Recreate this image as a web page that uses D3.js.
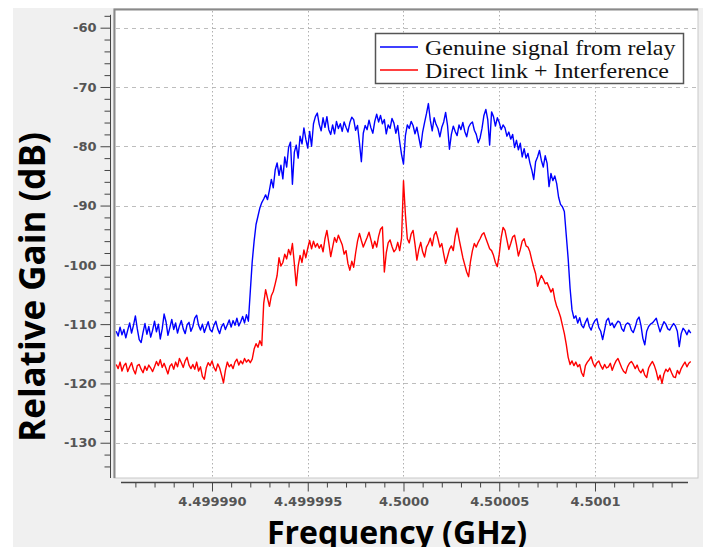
<!DOCTYPE html>
<meta charset="utf-8">
<title>Relative gain</title>
<style>
body { margin: 0; background: #fff; }
svg { display: block; }
.tick text { font-family: "DejaVu Sans"; font-weight: bold; font-size: 13px; fill: #555; }
.tick line { stroke: #444; }
</style>
<body>
<script src="https://d3js.org/d3.v7.min.js"></script>
<script>

// spectrum bins: 1 kHz apart, from 4.49985 GHz
var freqStart = 4.49985,
    freqStep = 0.000001;

// Genuine signal from relay (dB)
var genuine = [
  -111.2, -112.0, -110.5, -111.8, -110.9, -112.3, -111.0, -109.8, -111.5, -110.2,
  -108.6, -110.8, -112.6, -113.1, -111.4, -109.9, -111.7, -110.4, -112.2, -111.0,
  -109.5, -111.3, -110.0, -112.5, -110.8, -108.3, -109.6, -111.9, -110.6, -109.2,
  -110.9, -109.8, -111.5, -110.3, -109.4, -110.8, -111.6, -110.1, -109.7, -111.2,
  -110.4, -109.0, -108.5, -110.2, -111.0, -110.0, -111.4, -110.5, -109.6, -110.9,
  -111.3, -110.2, -109.5, -110.8, -111.6, -110.4, -109.9, -110.9, -110.1, -109.3,
  -110.5, -109.4, -110.2, -109.0, -110.3, -109.6, -108.7, -109.8, -108.4, -109.5,
  -104.5, -99.5, -96.0, -93.2, -91.8, -90.4, -89.5, -88.9, -88.2, -89.0,
  -87.4, -85.6, -87.0, -84.0, -82.8, -84.9, -83.2, -85.5, -81.8, -83.5,
  -80.2, -79.3, -86.4, -81.0, -79.8, -82.0, -78.3, -79.6, -76.9, -78.8,
  -80.3, -77.5, -80.0, -76.2, -75.0, -74.4, -76.3, -77.4, -75.2, -76.8,
  -75.0, -77.2, -78.0, -76.4, -77.9, -75.8, -77.0, -76.2, -77.5, -75.9,
  -76.8, -77.6, -76.0, -75.1, -75.5, -77.3, -76.5, -79.4, -82.6, -77.8,
  -76.5, -77.2, -75.6, -76.9, -77.8, -75.8, -74.6, -75.9, -74.8, -76.2,
  -75.5, -77.9, -76.4, -77.0, -75.3, -76.1, -77.8, -76.5, -79.2, -81.4,
  -83.0, -78.2, -76.4, -77.0, -75.8, -76.5, -77.9, -76.8, -78.5, -80.2,
  -77.6, -76.0, -74.5, -72.8, -75.6, -77.4, -75.2, -76.3, -77.0, -78.4,
  -76.8, -75.9, -74.3, -76.5, -80.5, -78.0, -76.6, -77.5, -78.2, -76.4,
  -77.2, -76.0, -77.5, -78.4, -76.8, -76.2, -75.9, -77.3, -78.0, -79.4,
  -78.6, -77.0, -74.8, -73.8, -75.5, -79.8, -74.2, -75.0, -76.6, -75.2,
  -76.0, -77.2, -76.4, -76.9, -78.3, -77.6, -78.8, -78.0, -80.2, -79.0,
  -80.6, -79.5, -81.8, -80.4, -82.0, -81.2, -82.8, -84.0, -85.6, -82.6,
  -81.8, -80.7, -82.4, -83.5, -81.6, -82.9, -86.8, -84.6, -85.8, -85.0,
  -86.3, -88.6, -89.8, -90.2, -91.0, -95.0, -99.0, -104.0, -107.6, -109.0,
  -108.6, -109.8, -108.9, -110.2, -110.6, -109.7, -109.0, -110.4, -111.0, -110.0,
  -109.4, -109.1, -110.6, -111.2, -112.6, -111.0, -109.4, -109.0, -110.2, -109.8,
  -110.6, -110.0, -109.5, -109.7, -110.8, -111.2, -110.1, -109.8, -110.0, -111.0,
  -111.4, -110.5, -109.3, -108.8, -110.2, -112.4, -113.5, -111.2, -110.4, -110.0,
  -109.8, -109.4, -109.0, -110.2, -111.3, -110.4, -109.6, -110.0, -110.8, -111.0,
  -110.4, -109.9, -110.3, -111.2, -113.8, -111.6, -110.7, -111.1, -111.8, -111.0,
  -111.5
];

// Direct link + Interference (dB)
var direct = [
  -116.8, -117.5, -116.4, -117.9, -117.0, -116.6, -118.0, -117.2, -116.5, -117.7,
  -118.4, -117.0, -116.8, -117.6, -118.2, -117.1, -117.8, -116.9, -117.4, -118.0,
  -117.2, -116.3, -117.0, -116.0, -117.3, -116.6, -117.5, -118.4, -117.1, -116.7,
  -117.6, -116.4, -117.2, -115.8, -116.5, -117.3, -116.2, -115.6, -116.9, -117.5,
  -116.8, -117.6, -116.4, -117.9, -117.2, -118.8, -119.3, -117.4, -116.5, -117.0,
  -116.2, -117.3, -117.9, -116.7, -117.4, -118.6, -119.9, -117.8, -116.4, -117.2,
  -116.8, -117.5, -116.4, -115.9, -116.9, -116.2, -116.7, -115.8, -116.4, -116.0,
  -116.5, -115.9, -114.2, -113.3, -113.9, -112.8, -113.6, -106.5, -104.2, -105.6,
  -107.0, -105.2, -104.5, -103.2, -101.8, -98.8, -100.2, -99.6, -98.2, -99.0,
  -97.4, -98.3, -96.4, -99.8, -103.5, -100.2, -98.4, -99.6, -97.5, -98.8,
  -97.2, -95.9, -97.3, -96.0, -97.0, -96.4, -97.2, -96.6, -97.8, -95.6,
  -94.2, -96.3, -98.6, -97.0, -95.4, -96.2, -95.0, -95.8, -96.6, -98.2,
  -97.6, -99.8, -100.9, -99.4, -100.4, -98.0, -96.0, -94.7, -95.9, -97.0,
  -96.2, -95.4, -94.5, -95.8, -97.2, -96.0, -97.0, -95.2, -94.0, -93.6,
  -101.2, -98.0, -96.3, -95.8, -96.9, -97.8, -97.4, -96.2, -97.6, -95.5,
  -85.8, -91.5, -95.6, -96.3, -94.8, -94.2, -96.5, -99.2, -97.4, -96.2,
  -97.8, -98.7, -97.0, -96.4, -95.5, -96.8, -95.0, -94.4, -95.6, -97.0,
  -96.4, -98.2, -99.8, -98.6, -97.4, -96.8, -97.6, -95.2, -93.8, -95.6,
  -97.2, -98.8, -100.0, -101.2, -102.0, -99.4, -97.6, -96.4, -97.0, -96.2,
  -95.6, -94.9, -94.6, -95.5, -96.4, -97.3, -97.6, -98.4, -99.6, -100.3,
  -98.2, -95.4, -93.7, -94.2, -95.8, -97.4, -96.4, -95.3, -95.0, -96.6,
  -98.5, -97.4, -96.0, -95.6, -96.8, -97.0, -97.8, -99.2, -100.4, -101.5,
  -103.6, -102.6, -101.8, -102.4, -103.2, -103.0, -103.8, -104.6, -104.0, -105.8,
  -107.0, -107.8, -108.8, -110.2, -111.6, -113.4, -115.6, -116.8, -116.2, -117.0,
  -116.4, -117.2, -116.8, -118.2, -118.8, -117.0, -116.4, -116.0, -115.5, -116.6,
  -117.2, -116.5, -116.2, -117.0, -117.6, -116.8, -117.4, -117.2, -116.6, -117.8,
  -116.9, -116.2, -115.8, -116.6, -117.4, -118.0, -118.3, -117.2, -116.6, -116.3,
  -116.8, -117.5, -116.9, -117.8, -118.2, -117.6, -118.6, -119.0, -117.4, -116.8,
  -116.3, -117.0, -118.0, -119.4, -118.6, -120.0, -118.4, -117.6, -118.0, -117.4,
  -118.2, -118.9, -119.0, -117.8, -118.4, -117.5, -116.9, -116.4, -117.2, -116.6,
  -116.3
];

var yMajor = [-130, -120, -110, -100, -90, -80, -70, -60];
var yMinor = d3.range(-134, -57, 2).filter(function(d) { return d % 10 !== 0; });
var xMajor = [4.4999, 4.49995, 4.5, 4.50005, 4.5001];
var xTickLabels = ["4.499990", "4.499995", "4.5000", "4.50005", "4.5001"];
var xMinor = d3.range(-14, 15).filter(function(d) { return d % 5 !== 0; })
    .map(function(d) { return 4.5 + d * 0.00001; });
var seriesNames = ["Genuine signal from relay", "Direct link + Interference"];
var seriesColors = ["#0000ff", "#ff0000"];

var width = 703, height = 547;

var svg = d3.select("body").append("svg")
    .attr("width", width)
    .attr("height", height);

// canvas box
var cv = { left: 114, top: 9, right: 698, bottom: 478 };

var x = d3.scaleLinear()
    .domain([4.49984883, 4.50015379])
    .range([cv.left, cv.right]);

var y = d3.scaleLinear()
    .domain([-135.95, -56.85])
    .range([cv.bottom, cv.top]);

// grey panel + white canvas
svg.append("rect").attr("x", 13).attr("y", 8)
    .attr("width", width - 13).attr("height", height - 8)
    .attr("fill", "#f0f0f0");
svg.append("rect").attr("x", cv.left).attr("y", cv.top)
    .attr("width", cv.right - cv.left).attr("height", cv.bottom - cv.top)
    .attr("fill", "#fff").attr("stroke", "#c8c8c8");
svg.append("path")
    .attr("d", "M" + (cv.left + 0.5) + "," + cv.bottom + "V" + (cv.top + 0.5) + "H" + cv.right)
    .attr("fill", "none").attr("stroke", "#8a8a8a").attr("stroke-width", 2);

// grid
svg.append("g").selectAll("line")
  .data(yMajor).enter().append("line")
    .attr("x1", cv.left + 2).attr("x2", cv.right - 2)
    .attr("y1", function(d) { return Math.round(y(d)) + 0.5; })
    .attr("y2", function(d) { return Math.round(y(d)) + 0.5; })
    .attr("stroke", "#bdbdbd").attr("stroke-dasharray", "4,4");

svg.append("g").selectAll("line")
  .data(xMajor).enter().append("line")
    .attr("x1", function(d) { return Math.round(x(d)) + 0.5; })
    .attr("x2", function(d) { return Math.round(x(d)) + 0.5; })
    .attr("y1", cv.top + 2).attr("y2", cv.bottom)
    .attr("stroke", "#b0b0b0").attr("stroke-dasharray", "1.5,2.5");

// traces
svg.append("clipPath").attr("id", "clip")
  .append("rect").attr("x", cv.left + 1).attr("y", cv.top + 1)
    .attr("width", cv.right - cv.left - 1).attr("height", cv.bottom - cv.top - 1);

var line = d3.line()
    .x(function(d, i) { return x(freqStart + i * freqStep); })
    .y(function(d) { return y(d); });

svg.append("g").attr("clip-path", "url(#clip)")
  .selectAll("path")
  .data([genuine, direct]).enter().append("path")
    .attr("d", line)
    .attr("fill", "none")
    .attr("stroke", function(d, i) { return seriesColors[i]; })
    .attr("stroke-width", 1.4)
    .attr("stroke-linejoin", "round");

// y axis
var yAxisX = 110.5;
var gy = svg.append("g").attr("transform", "translate(" + yAxisX + ",0)");
gy.call(d3.axisLeft(y).tickValues(yMajor).tickSize(10).tickPadding(4)
    .tickFormat(function(d) { return String(d); }));
gy.append("g").call(d3.axisLeft(y).tickValues(yMinor).tickSize(6).tickFormat(""));
gy.selectAll(".domain").remove();
gy.append("line").attr("y1", y(-58) - 1).attr("y2", cv.bottom).attr("stroke", "#444");

// x axis
var gx = svg.append("g").attr("transform", "translate(0,482.5)");
gx.call(d3.axisBottom(x).tickValues(xMajor).tickSize(9).tickPadding(5)
    .tickFormat(function(d, i) { return xTickLabels[i]; }));
gx.append("g").call(d3.axisBottom(x).tickValues(xMinor).tickSize(5).tickFormat(""));
gx.selectAll(".domain").remove();
gx.append("line").attr("x1", 121).attr("x2", 688).attr("stroke", "#444").attr("stroke-width", 1.5);

// axis titles
svg.append("text")
    .attr("transform", "translate(45,287) rotate(-90)")
    .attr("text-anchor", "middle")
    .style("font-family", "Open Sans").style("font-weight", "bold").style("font-size", "35px")
    .text("Relative Gain (dB)");

svg.append("text")
    .attr("x", 397).attr("y", 544)
    .attr("text-anchor", "middle")
    .style("font-family", "Open Sans").style("font-weight", "bold").style("font-size", "32px")
    .text("Frequency (GHz)");

// legend
var legend = svg.append("g");
legend.append("rect")
    .attr("x", 375.5).attr("y", 33.5).attr("width", 308).attr("height", 50)
    .attr("fill", "#fff").attr("stroke", "#555").attr("stroke-width", 1.5);
var item = legend.selectAll(".item")
  .data(seriesNames).enter().append("g")
    .attr("transform", function(d, i) { return "translate(0," + (i * 23) + ")"; });
item.append("line")
    .attr("x1", 380).attr("x2", 418).attr("y1", 47).attr("y2", 47)
    .attr("stroke", function(d, i) { return seriesColors[i]; })
    .attr("stroke-width", 1.3);
item.append("text")
    .attr("transform", "translate(425,55) scale(1.14,1)")
    .style("font-family", "Liberation Serif").style("font-size", "21px")
    .attr("fill", "#111")
    .text(function(d) { return d; });

</script>
</body>
</html>
